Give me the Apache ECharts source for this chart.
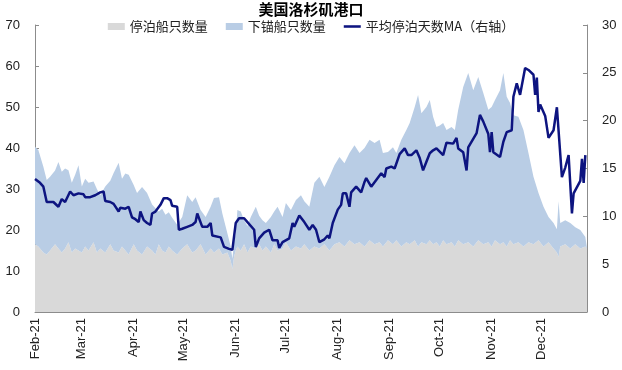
<!DOCTYPE html>
<html>
<head>
<meta charset="utf-8">
<script src="https://cdn.jsdelivr.net/npm/echarts@6/dist/echarts.min.js"></script>
<style>
html,body{margin:0;padding:0;background:#fff;}
#chart{width:622px;height:370px;}
</style>
</head>
<body>
<div id="chart"></div>
<script>
// ---- data ----
const YEAR = 2021;
const startDate = '02-01';
const endDate = '12-28';
const monthNames = ['Jan','Feb','Mar','Apr','May','Jun','Jul','Aug','Sep','Oct','Nov','Dec'];

const areaDates = [
 '02-01','02-03','02-06','02-08','02-10','02-13','02-15','02-17','02-19','02-21','02-23','02-25','02-27',
 '03-01','03-03','03-05','03-08','03-10','03-12','03-15','03-18','03-20','03-23','03-25','03-27','03-29',
 '04-01','04-03','04-06','04-09','04-12','04-14','04-16','04-18','04-20','04-22','04-24','04-27','04-30',
 '05-03','05-06','05-08','05-11','05-14','05-17','05-19','05-22','05-24','05-27','05-29','05-30','05-31',
 '06-01','06-02','06-04','06-06','06-08','06-10','06-13','06-15','06-17','06-19','06-22','06-24','06-26','06-29',
 '07-01','07-04','07-07','07-10','07-12','07-15','07-18','07-21','07-24','07-27','07-30',
 '08-02','08-05','08-08','08-11','08-14','08-17','08-20','08-23','08-26','08-28','08-31',
 '09-03','09-05','09-08','09-11','09-13','09-16','09-18','09-20','09-23','09-25','09-27','09-29',
 '10-01','10-03','10-05','10-08','10-10','10-12','10-15','10-18','10-21','10-24','10-27','10-30',
 '11-01','11-03','11-06','11-08','11-10','11-12','11-14','11-17','11-20','11-23','11-26','11-29',
 '12-02','12-05','12-08','12-10','12-11','12-12','12-15','12-18','12-21','12-24','12-27','12-28'
];
// 停泊船只数量
const berthValues = [
 16.5,16.0,14.5,14.0,15.0,16.5,15.5,14.5,15.5,17.0,14.5,15.5,15.0,
 14.5,16.0,15.0,17.0,14.5,15.5,14.5,16.5,15.0,14.5,16.0,15.0,14.0,
 16.5,15.0,14.0,16.0,15.0,14.0,16.5,15.0,14.5,16.0,15.0,14.0,15.5,
 16.5,14.5,15.0,16.5,14.0,15.5,14.5,15.5,14.0,14.5,12.5,10.5,13.5,
 15.0,16.0,15.0,16.5,14.5,16.0,15.5,16.5,15.0,16.0,14.5,16.5,15.0,15.5,
 17.0,15.0,16.0,15.5,16.5,15.0,16.0,15.5,16.5,15.0,16.5,
 17.0,16.0,17.5,16.5,17.0,16.0,17.5,16.5,17.0,16.0,17.5,
 16.5,17.5,16.0,17.0,16.5,17.5,16.0,17.0,16.5,17.5,16.5,17.0,
 16.0,17.5,16.5,17.0,16.0,17.5,16.5,17.0,16.0,17.5,16.5,17.0,
 16.0,17.5,16.5,17.0,16.0,17.5,16.5,17.0,16.0,17.0,16.5,17.5,
 16.0,17.0,15.5,14.5,13.5,16.0,16.5,15.5,16.5,15.5,16.0,15.5
];
// 下锚船只数量
const anchorValues = [
 23.8,23.5,20.9,18.2,18.0,18.0,21.1,19.7,19.5,17.6,17.0,18.0,20.8,
 16.1,16.5,16.5,14.8,15.5,13.0,16.1,15.5,18.9,21.9,16.5,18.8,19.5,
 14.5,14.0,16.5,13.0,11.2,11.3,8.0,10.2,9.2,8.3,8.0,7.3,7.7,
 12.0,12.3,13.0,8.4,9.2,10.2,13.3,12.5,10.0,4.7,3.5,2.5,3.5,
 4.2,8.9,9.5,5.9,6.5,7.2,10.2,7.0,7.4,5.7,8.7,8.0,10.7,7.7,
 9.6,9.9,11.3,13.0,10.5,10.7,15.5,17.5,14.0,18.0,19.3,
 20.8,20.3,21.3,24.2,21.8,24.0,24.5,24.7,25.0,22.8,21.5,
 23.7,21.3,26.0,27.4,29.6,32.5,36.9,31.5,33.5,34.2,31.1,28.1,
 29.5,28.6,27.9,28.1,28.4,31.8,38.4,41.3,38.1,39.8,36.9,32.3,
 34.0,34.2,37.6,41.3,36.5,33.5,31.5,30.6,28.4,21.8,16.5,11.5,
 9.7,6.2,6.2,5.7,13.5,5.7,5.9,6.2,4.2,4.5,2.3,2.5
];

const maDates = [
 '02-01','02-04','02-06','02-07','02-08','02-12','02-15','02-17','02-19','02-22','02-24','02-27',
 '03-02','03-03','03-06','03-09','03-12','03-14','03-15','03-18','03-20','03-21','03-23','03-24','03-27','03-29','03-31',
 '04-02','04-04','04-05','04-07','04-09','04-11','04-12','04-14','04-17','04-19','04-21','04-23','04-24','04-27','04-28','04-30',
 '05-03','05-06','05-08','05-09','05-12','05-15','05-17','05-18','05-23','05-25','05-28','05-30',
 '06-01','06-03','06-06','06-08','06-12','06-13','06-15','06-18','06-21','06-23','06-26','06-27','06-29',
 '07-03','07-05','07-06','07-09','07-12','07-15','07-17','07-19','07-21','07-24','07-26','07-27','07-29',
 '08-01','08-03','08-04','08-06','08-08','08-09','08-12','08-15','08-17','08-18','08-21','08-24','08-27','08-29','08-30',
 '09-02','09-04','09-07','09-08','09-10','09-12','09-14','09-17','09-19','09-21','09-23','09-25','09-27','09-29','09-30',
 '10-03','10-05','10-06','10-09','10-11','10-12','10-15','10-17','10-18','10-23','10-25','10-27','10-30','10-31',
 '11-01','11-02','11-03','11-06','11-08','11-10','11-13','11-14','11-16','11-17','11-18','11-21','11-23','11-26','11-27','11-28','11-29','11-30',
 '12-03','12-05','12-08','12-10','12-13','12-15','12-17','12-19','12-20','12-24','12-25','12-26','12-27'
];
// 平均停泊天数MA（右轴）
const maValues = [
 13.9,13.5,13.1,13.3,11.5,11.5,11.0,11.8,11.5,12.6,12.2,12.4,
 12.3,12.0,12.0,12.2,12.5,12.6,11.6,11.5,11.3,11.2,10.5,10.9,10.8,11.0,9.9,
 9.7,9.4,10.5,9.6,9.3,9.1,10.3,10.5,11.2,11.9,11.9,11.7,11.1,11.0,8.6,8.7,
 8.9,9.1,9.4,10.3,8.9,8.9,9.3,8.0,7.8,6.8,6.6,6.5,
 9.3,9.8,9.8,9.4,8.6,6.8,7.7,8.3,8.6,7.5,7.5,6.7,7.3,
 7.7,9.3,8.9,10.1,9.4,8.6,9.1,8.6,7.3,7.6,8.0,7.7,9.3,
 10.7,11.2,12.4,12.4,11.0,12.5,13.1,12.5,13.6,14.0,13.1,13.8,14.5,14.1,15.0,
 15.2,15.0,16.5,16.6,17.1,16.4,16.4,16.9,16.1,14.8,15.7,16.6,16.9,17.1,17.2,
 16.4,17.7,17.8,17.6,18.2,17.1,16.7,14.8,17.2,18.7,20.6,19.9,18.6,16.7,
 18.8,16.7,16.7,16.2,17.8,18.8,19.0,22.5,23.9,23.3,22.7,25.5,25.3,24.8,22.7,24.5,20.9,21.7,
 20.5,18.2,19.0,21.4,14.1,15.1,16.4,10.3,12.4,13.7,16.0,13.5,16.4
];

const leftTicks = {min: 0, max: 70, interval: 10};
const rightTicks = {min: 0, max: 30, interval: 5};

// ---- build daily category axis ----
function pad(n){return (n<10?'0':'')+n;}
function buildCategories(){
  const out = [];
  const s = startDate.split('-').map(Number), e = endDate.split('-').map(Number);
  let t = Date.UTC(YEAR, s[0]-1, s[1]);
  const end = Date.UTC(YEAR, e[0]-1, e[1]);
  while (t <= end) {
    const d = new Date(t);
    out.push(pad(d.getUTCMonth()+1) + '-' + pad(d.getUTCDate()));
    t += 86400000;
  }
  return out;
}
const categories = buildCategories();
const isMonthStart = (idx, val) => val.slice(3) === '01';

const latin = '"Liberation Sans", Arial, sans-serif';
const cjk = '"Noto Sans CJK SC", "Liberation Sans", sans-serif';

const chart = echarts.init(document.getElementById('chart'), null, {renderer: 'canvas'});
chart.setOption({
  animation: false,
  backgroundColor: '#fff',
  title: {
    text: '美国洛杉矶港口',
    left: 'center',
    top: -3,
    textStyle: {fontFamily: cjk, fontSize: 15, fontWeight: 'bold', color: '#000'}
  },
  legend: {
    top: 15,
    left: 'center',
    itemWidth: 17,
    itemHeight: 7,
    itemGap: 18,
    symbolKeepAspect: true,
    textStyle: {fontFamily: cjk, fontSize: 13, color: '#222'},
    data: [
      {name: '停泊船只数量', icon: 'rect'},
      {name: '下锚船只数量', icon: 'rect'},
      {name: '平均停泊天数MA（右轴）', icon: 'path://M0,0H24V3.6H0Z'}
    ]
  },
  grid: {left: 35, right: 35, top: 25, bottom: 58, containLabel: false},
  xAxis: {
    type: 'category',
    data: categories,
    boundaryGap: false,
    axisLine: {lineStyle: {color: '#8c8c8c', width: 1}},
    axisTick: {show: true, inside: true, length: 4, interval: isMonthStart, lineStyle: {color: '#8c8c8c'}},
    axisLabel: {
      interval: isMonthStart,
      rotate: 90,
      margin: 6,
      fontFamily: latin,
      fontSize: 13,
      color: '#222',
      formatter: v => monthNames[parseInt(v.slice(0,2),10)-1] + '-' + String(YEAR).slice(2)
    },
    splitLine: {show: false}
  },
  yAxis: [
    {
      type: 'value',
      min: leftTicks.min, max: leftTicks.max, interval: leftTicks.interval,
      axisLine: {show: true, lineStyle: {color: '#8c8c8c'}},
      axisTick: {show: true, inside: true, length: 4, lineStyle: {color: '#8c8c8c'}},
      axisLabel: {fontFamily: latin, fontSize: 13, color: '#222', margin: 15},
      splitLine: {show: false}
    },
    {
      type: 'value',
      min: rightTicks.min, max: rightTicks.max, interval: rightTicks.interval,
      axisLine: {show: true, lineStyle: {color: '#8c8c8c'}},
      axisTick: {show: true, inside: true, length: 4, lineStyle: {color: '#8c8c8c'}},
      axisLabel: {fontFamily: latin, fontSize: 13, color: '#222', margin: 15},
      splitLine: {show: false}
    }
  ],
  series: [
    {
      name: '停泊船只数量',
      type: 'line',
      stack: 'ships',
      symbol: 'none',
      lineStyle: {width: 0},
      itemStyle: {color: '#d9d9d9'},
      areaStyle: {color: '#d9d9d9', opacity: 1},
      data: areaDates.map((d, i) => [d, berthValues[i]])
    },
    {
      name: '下锚船只数量',
      type: 'line',
      stack: 'ships',
      symbol: 'none',
      lineStyle: {width: 0},
      itemStyle: {color: '#b9cde5'},
      areaStyle: {color: '#b9cde5', opacity: 1},
      data: areaDates.map((d, i) => [d, anchorValues[i]])
    },
    {
      name: '平均停泊天数MA（右轴）',
      type: 'line',
      yAxisIndex: 1,
      symbol: 'none',
      lineStyle: {color: '#0d1480', width: 2.5},
      itemStyle: {color: '#0d1480'},
      data: maDates.map((d, i) => [d, maValues[i]])
    }
  ]
});
</script>
</body>
</html>
